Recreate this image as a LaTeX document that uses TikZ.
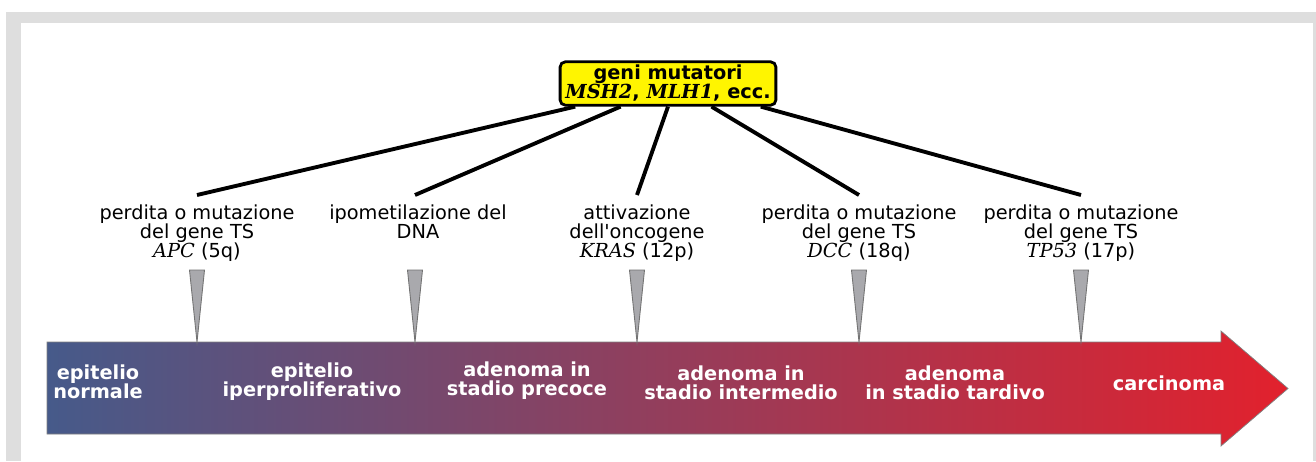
\documentclass[tikz,border=0pt]{standalone}
\usepackage{fontspec}
\setmainfont{DejaVu Sans}[Ligatures=TeXOff]
\newfontfamily\genefont{DejaVu Serif}
\usetikzlibrary{positioning}
\definecolor{framegray}{HTML}{DEDEDE}
\definecolor{stagestart}{HTML}{465A8A}
\definecolor{stageend}{HTML}{E2212D}
\definecolor{markergray}{HTML}{A9A9AD}
\definecolor{boxyellow}{HTML}{FFF500}
\tikzstyle{event} = [align=center, anchor=north, inner xsep=1pt, inner ysep=5.5pt, font=\fontsize{11}{10.8}\selectfont]
\tikzstyle{stage} = [align=center, text=white, font=\fontsize{11}{10.8}\selectfont\bfseries]
\tikzstyle{link} = [line width=2.2pt]
\tikzstyle{marker} = [fill=markergray, draw=black!55, line width=0.5pt]
\newcommand{\gene}[1]{{\genefont\itshape #1}}

\begin{document}
\begin{tikzpicture}[x=0.02cm, y=-0.02cm]
			\useasboundingbox (0,0) rectangle (1316,461);
			\fill[framegray] (6,12) rectangle (1316,461);
			\fill[white] (21,23) rectangle (1313,461);
			\shade[left color=stagestart, right color=stageend, draw=black!50, line width=0.4pt] (47,342) -- (1221,342) -- (1221,331) -- (1288,388.5) -- (1221,446) -- (1221,434) -- (47,434) -- cycle;
			\node[draw=black, line width=1.6pt, fill=boxyellow, rounded corners=3pt, align=center, inner xsep=3pt, inner ysep=2pt, font=\fontsize{11}{10.8}\selectfont\bfseries] (mutators) at (668,83.5) {geni mutatori\\{\genefont\bfseries\itshape MSH2}, {\genefont\bfseries\itshape MLH1}, ecc.};
			\node[event] (apc) at (197,195) {perdita o mutazione\\del gene TS\\\gene{APC} (5q)};
			\node[event] (dna) at (418,195) {ipometilazione del\\DNA};
			\node[event] (kras) at (637,195) {attivazione\\dell'oncogene\\\gene{KRAS} (12p)};
			\node[event] (dcc) at (859,195) {perdita o mutazione\\del gene TS\\\gene{DCC} (18q)};
			\node[event] (tp53) at (1081,195) {perdita o mutazione\\del gene TS\\\gene{TP53} (17p)};
			\draw[link] (mutators.194) -- (apc.north);
			\draw[link] (mutators.206) -- (dna.north -| 415,0);
			\draw[link] (mutators.270) -- (kras.north);
			\draw[link] (mutators.332) -- (dcc.north);
			\draw[link] (mutators.346) -- (tp53.north);
			\foreach \x in {197,415,637,859,1081}
				\filldraw[marker] (\x-7.5,270) -- (\x+7.5,270) -- (\x,342) -- cycle;
			\node[stage] (normal) at (98,382) {epitelio\\normale};
			\node[stage] (hyper) at (312,382) {epitelio\\iperproliferativo};
			\node[stage] (early) at (527,381) {adenoma in\\stadio precoce};
			\node[stage] (middle) at (741,383) {adenoma in\\stadio intermedio};
			\node[stage] (late) at (955,383) {adenoma\\in stadio tardivo};
			\node[stage] (carcinoma) at (1169,383) {carcinoma};
		\end{tikzpicture}
\end{document}
